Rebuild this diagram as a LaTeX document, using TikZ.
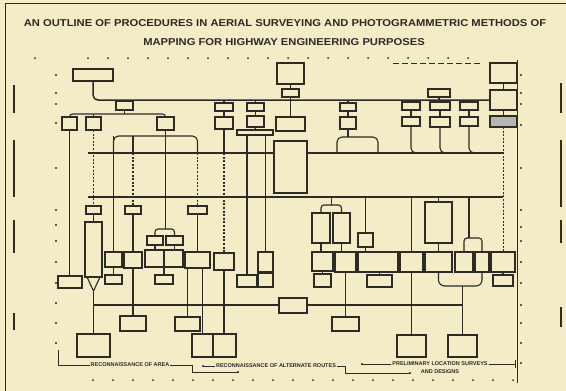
\documentclass[tikz,border=0pt]{standalone}
\usepackage{fontspec}
\setmainfont{Liberation Sans}
\usetikzlibrary{calc}
\definecolor{paper}{HTML}{F3ECC6}
\definecolor{ink}{HTML}{2C2B26}
\pgfdeclarelayer{back}\pgfdeclarelayer{bg}\pgfsetlayers{back,bg,main}
\newcommand\bx[6][]{\node[bx,#1,minimum width={(#5-#3)*1pt},minimum height={(#6-#4)*1pt}] (#2) at ({(#3+#5)/2},{(#4+#6)/2}) {};}
\begin{document}
\begin{tikzpicture}[x=1pt,y=-1pt,
  bx/.style={draw=ink,line width=1.1pt,fill=paper,inner sep=0pt,outer sep=0pt},
  dk/.style={fill=ink!35},
  bus/.style={draw=ink,line width=1.5pt},
  ln/.style={draw=ink,line width=1.1pt},
  dl/.style={draw=ink,line width=1.1pt,dash pattern=on 2pt off 1.6pt},
  rc/.style={rounded corners=5pt},
  ttl/.style={font=\bfseries\fontsize{10}{12}\selectfont,text=ink,inner sep=0pt},
  lbl/.style={font=\bfseries\fontsize{5.5}{6.5}\selectfont,text=ink,inner sep=1pt,fill=paper}]
\begin{pgfonlayer}{back}
\fill[paper] (0,0) rectangle (566,391);
\end{pgfonlayer}
\useasboundingbox (0,0) rectangle (566,391);
% frame and margins
\draw[ink,line width=1pt] (5.5,391) -- (5.5,3.5) -- (566,3.5);
\draw[ink,line width=0.8pt] (517,60) -- (517,383);
\draw[ink,line width=0.7pt,dash pattern=on 6pt off 3pt] (393,63) -- (480,63);
\foreach \a/\b in {85/113,140/197,220/253,313/330} \draw[ink,line width=2.2pt] (14,\a) -- (14,\b);
\foreach \a/\b in {83/113,140/207,220/243,307/327} \draw[ink,line width=2.2pt] (561,\a) -- (561,\b);
\foreach \y in {75,93,104,123,168,210,225,241,262,283,303,323,343} \fill[ink] (56,\y) circle (1.1);
\foreach \y in {75,93,104,125,168,210,227,241,262,283,305,323,343,363} \fill[ink] (521,\y) circle (1.1);
\foreach \x in {35,88,108,...,468} \fill[ink] (\x,58) circle (1);
\foreach \x in {93,113,...,513} \fill[ink] (\x,380) circle (1);
% title
\node[ttl,xscale=1.12] (title1) at (285,23) {AN OUTLINE OF PROCEDURES IN AERIAL SURVEYING AND PHOTOGRAMMETRIC METHODS OF};
\node[ttl,xscale=1.12] (title2) at (284,42) {MAPPING FOR HIGHWAY ENGINEERING PURPOSES};
% ---- boxes: top
\bx{T1}{73}{69}{113}{81}
\bx{T2}{116}{101}{133}{110}
\bx{T3}{62}{117}{77}{130}
\bx{T4}{86}{117}{101}{130}
\bx{T5}{157}{117}{174}{130}
\bx{C0}{277}{63}{304}{84}
\bx{C1}{282}{89}{299}{97}
\bx{U1a}{215}{103}{233}{111}
\bx{U1b}{215}{117}{233}{129}
\bx{U2a}{247}{103}{264}{111}
\bx{U2b}{247}{116}{264}{127}
\bx{U2c}{237}{130}{273}{135}
\bx{U3}{276}{117}{305}{131}
\bx{U4a}{340}{103}{356}{111}
\bx{U4b}{340}{117}{356}{129}
\bx{R0}{428}{89}{450}{97}
\bx{R1a}{402}{102}{420}{110}
\bx{R1b}{402}{117}{420}{126}
\bx{R2a}{430}{102}{450}{110}
\bx{R2b}{430}{117}{450}{127}
\bx{R3a}{460}{102}{478}{110}
\bx{R3b}{460}{117}{478}{126}
\bx{RS1}{490}{63}{517}{83}
\bx{RS2}{490}{90}{517}{110}
\bx[dk]{RS3}{490}{116}{517}{127}
\bx{CB}{274}{141}{307}{193}
% ---- boxes: middle
\bx{L1}{86}{206}{101}{214}
\bx{L2}{125}{206}{141}{214}
\bx{L3}{188}{206}{207}{214}
\bx{L4}{85}{222}{102}{277}
\bx{L5}{58}{276}{82}{288}
\bx{L6}{105}{252}{122}{267}
\bx{L6b}{105}{275}{122}{284}
\bx{L7}{124}{252}{142}{268}
\bx{L8a}{147}{236}{163}{245}
\bx{L8b}{166}{236}{183}{245}
\bx{L8c}{145}{250}{164}{267}
\bx{L8d}{164}{250}{183}{267}
\bx{L8e}{155}{275}{173}{284}
\bx{L9}{185}{252}{210}{268}
\bx{L10}{214}{253}{234}{270}
\bx{L11}{237}{275}{257}{287}
\bx{L12}{258}{252}{273}{272}
\bx{L12b}{258}{273}{273}{287}
\bx{M1a}{312}{213}{330}{243}
\bx{M1b}{333}{213}{350}{243}
\bx{M2}{312}{252}{333}{271}
\bx{M2b}{314}{274}{331}{287}
\bx{M3}{335}{252}{356}{272}
\bx{M4}{358}{233}{373}{247}
\bx{M5}{358}{252}{398}{272}
\bx{M5b}{367}{275}{392}{287}
\bx{M6}{400}{252}{423}{272}
\bx{M7}{425}{202}{452}{243}
\bx{M7b}{425}{252}{452}{272}
\bx{M8}{455}{252}{473}{272}
\bx{M8b}{475}{252}{489}{272}
\bx{M9}{491}{252}{515}{272}
\bx{M9b}{493}{275}{513}{286}
% ---- boxes: bottom
\bx{BB1}{77}{334}{110}{357}
\bx{BB2}{120}{316}{146}{331}
\bx{BBa}{175}{317}{200}{331}
\bx{BB3}{192}{334}{213}{357}
\bx{BB4}{213}{334}{236}{357}
\bx{BC}{279}{298}{307}{313}
\bx{BR}{332}{317}{359}{331}
\bx{BB5}{397}{335}{426}{357}
\bx{BB6}{448}{335}{477}{357}
% ---- bottom brackets
\node[lbl] (rA) at (130,365) {RECONNAISSANCE OF AREA};
\node[lbl] (rB) at (276,366) {RECONNAISSANCE OF ALTERNATE ROUTES};
\node[lbl] (rC) at (440,364) {PRELIMINARY LOCATION SURVEYS};
\node[lbl] (rD) at (440,372) {AND DESIGNS};
\coordinate (aA0) at (58,350); \coordinate (aA1) at (192,365); \coordinate (aA2) at (238,372);
\coordinate (aB0) at (203,366); \coordinate (aB1) at (345,366); \coordinate (aB2) at (410,373);
\coordinate (aC0) at (362,364); \coordinate (aC1) at (515,364);
\begin{pgfonlayer}{bg}
\draw[ink,line width=0.7pt] (aA0) |- (aA1) |- (aA2);
\fill[ink] (aA2) circle (1.2);
\draw[ink,line width=0.7pt] (aB0) -- (aB1) |- (aB2);
\fill[ink] (aB0) circle (1.2); \fill[ink] (aB2) circle (1.2);
\draw[ink,line width=0.7pt] (aC0) -- (aC1) ++(0,-4) -- ++(0,8);
\fill[ink] (aC0) circle (1.2);
% ---- buses
\draw[bus,rc] (T1.south) |- (RS2.west);
\coordinate (b1s) at (88,153); \coordinate (b1e) at (503,153);
\coordinate (b2s) at (88,197); \coordinate (b2e) at (503,197);
\coordinate (b3s) at (93.5,305); \coordinate (b3e) at (462.5,305);
\draw[bus] (b1s) -- (b1e);
\draw[bus] (b2s) -- (b2e);
\draw[bus] (b3s) -- (b3e);
% ---- top connectors
\draw[ln] (T2.north) -- (T2.north |- RS2.west);
\coordinate (h1) at (124.5,114);
\draw[ln,rounded corners=3pt] (T3.north) |- (h1) -| (T5.north);
\draw[ln] (T2.south) -- (h1);
\draw[ln] (T4.north) -- (T4.north |- h1);
\draw[ln] (C0.south) -- (C1.north);
\draw[ln] (C1.south) -- (U3.north);
\foreach \n in {U1a,U2a,U4a,R1a,R2a,R3a} \draw[ln] (\n.north |- RS2.west) -- (\n.north);
\draw[ln] (R0.south) -- (R0.south |- RS2.west);
\draw[ln] (U1a.south) -- (U1b.north);
\draw[ln] (U2a.south) -- (U2b.north);
\draw[ln] (U2b.south) -- (U2c.north);
\draw[ln] (U4a.south) -- (U4b.north);
\draw[ln] (R1a.south) -- (R1b.north);
\draw[ln] (R2a.south) -- (R2b.north);
\draw[ln] (R3a.south) -- (R3b.north);
\draw[ln] (RS1.south) -- (RS2.north);
\draw[ln] (RS2.south) -- (RS3.north);
% left group
\draw[ln] (T3.south) -- (T3.south |- L5.north);
\draw[dl] (T4.south) -- (L1.north);
\coordinate (c5l) at (113.5,136); \coordinate (c5m) at (133,136); \coordinate (c5r) at (197.5,136);
\draw[ln,rc] (b1s -| c5l) -- (c5l) -- (c5r) -- (b1s -| c5r);
\draw[ln] (c5m) -- (b1s -| c5m);
\draw[ln] (c5l) -- (L6.north);
\draw[dl] (b1s -| c5m) -- (L2.north);
\coordinate (fk1) at (165.5,229);
\draw[ln] (T5.south) -- (fk1);
\draw[ln,rounded corners=3pt] (L8a.north) |- (fk1) -| (L8b.north);
\draw[dl] (b1s -| c5r) -- (L3.north);
\draw[ln] (U1b.south) -- (U1b.south |- b1s);
\draw[dl] (U1b.south |- b1s) -- (L10.north);
\draw[ln] (L11.north |- U2c.south) -- (L11.north);
\draw[ln] (L12.north |- U2c.south) -- (L12.north);
% U4 loop
\coordinate (c4l) at (337,137); \coordinate (c4r) at (378,137);
\draw[ln,rc] (b1s -| c4l) -- (c4l) -- (c4r) -- (b1s -| c4r);
\draw[ln] (U4b.south) -- (U4b.south |- c4l);
% right group into B1
\draw[ln,rc] (R1b.south) |- (b1s -| R2b.south);
\draw[ln,rc] (R2b.south) |- (b1s -| R3b.south);
\draw[ln,rc] (R3b.south) |- (b1e);
\draw[dl] (RS3.south) -- (RS3.south |- M9.north);
% ---- lower left
\draw[ln] (L1.south) -- (L4.north);
\coordinate (j1) at (93.5,291);
\draw[ln] ($(L4.south west)+(2,0)$) -- (j1) -- ($(L4.south east)+(-2,0)$);
\draw[ln] (j1) -- (BB1.north);
\draw[ln] (L6.south) -- (L6b.north);
\draw[ln] (L2.south) -- (L2.south |- BB2.north);
\draw[ln] (L8a.south) -- (L8a.south |- L8c.north);
\draw[ln] (L8b.south) -- (L8b.south |- L8d.north);
\draw[ln] (L8e.north |- L8c.south) -- (L8e.north);
\draw[ln] (L3.south) -- (L3.south |- L9.north);
\draw[ln] (L9.south -| BBa.north) -- (BBa.north);
\draw[ln] (L9.south -| BB3.north) -- (BB3.north);
\draw[ln] (L10.south) -- (L10.south |- BB4.north);
\draw[ln] (L12.south) -- (L12b.north);
% ---- lower right
\coordinate (fk2) at (331.5,205);
\draw[ln] (b2s -| fk2) -- (fk2);
\draw[ln,rounded corners=3pt] (M1a.north) |- (fk2) -| (M1b.north);
\draw[ln] (M1a.south) -- (M1a.south |- M2.north);
\draw[ln] (M2.south) -- (M2.south |- M2b.north);
\draw[ln] (M1b.south) -- (M1b.south |- M3.north);
\draw[ln] (M3.south) -- (M3.south |- BR.north);
\draw[ln] (M4.north |- b2s) -- (M4.north);
\draw[ln] (M4.south) -- (M4.south |- M5.north);
\draw[ln] (M5.south -| M5b.north) -- (M5b.north);
\draw[ln] (M6.north |- b2s) -- (M6.north);
\draw[ln] (M6.south) -- (M6.south |- BB5.north);
\draw[ln] (M7.north |- b2s) -- (M7.north);
\draw[ln] (M7.south) -- (M7b.north);
\coordinate (fk3) at (469,238);
\draw[ln] (b2s -| fk3) -- (fk3);
\draw[ln,rounded corners=3pt] (M8.north) |- (fk3) -| (M8b.north);
\coordinate (j3) at (462.5,286);
\draw[ln,rounded corners=6pt] (M7b.south) |- (j3) -| (M8b.south);
\draw[ln] (j3) -- (BB6.north);
\draw[ln] (M9.south) -- (M9b.north);
\end{pgfonlayer}
\end{tikzpicture}
\end{document}
